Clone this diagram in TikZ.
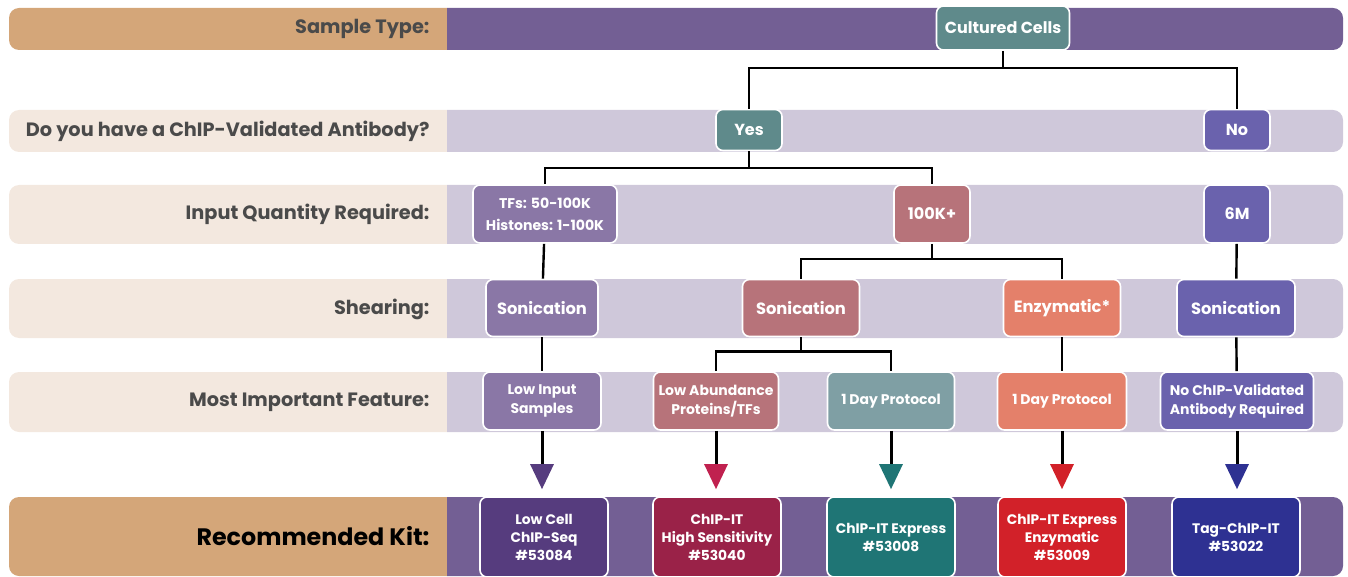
\documentclass[tikz,border=0pt]{standalone}
\usepackage{fontspec}
\setmainfont{Poppins}
\usetikzlibrary{arrows.meta,positioning,calc}

\definecolor{tanc}{HTML}{D4A679}
\definecolor{beige}{HTML}{F3E8DF}
\definecolor{lav}{HTML}{CFC8DA}
\definecolor{bandpurp}{HTML}{735F94}
\definecolor{labgray}{HTML}{4A4A4A}
\definecolor{cellteal}{HTML}{5F8A8B}
\definecolor{nopurp}{HTML}{6A62AD}
\definecolor{tfpurp}{HTML}{8A77A6}
\definecolor{mauve}{HTML}{B7737A}
\definecolor{coral}{HTML}{E4806A}
\definecolor{greyteal}{HTML}{7F9FA4}
\definecolor{kitA}{HTML}{563C7E}
\definecolor{kitB}{HTML}{9A2248}
\definecolor{kitC}{HTML}{1F7575}
\definecolor{kitD}{HTML}{D22129}
\definecolor{kitE}{HTML}{2E3192}
\definecolor{tipB}{HTML}{C0214F}

\begin{document}
\begin{tikzpicture}[
  x=1pt, y=-1pt,
  opt/.style={draw=white, line width=1.6pt, rounded corners=7pt, text=white, align=center, inner sep=2pt, font=\bfseries\fontsize{16}{19}\selectfont},
  feat/.style={opt, minimum height=58pt, font=\bfseries\fontsize{14}{19}\selectfont},
  kit/.style={opt, minimum width=128pt, minimum height=80pt, font=\bfseries\fontsize{13.8}{18}\selectfont},
  qlab/.style={anchor=east, text=labgray, font=\bfseries\fontsize{19.3}{22}\selectfont},
  conn/.style={line width=2.4pt},
  pick/.style={line width=3pt, shorten >=7pt, -{Triangle[length=25pt, width=23pt, color=#1]}}
]
\useasboundingbox (0,0) rectangle (1348,577);

% Row bands (question half + answer half)
\foreach \ya/\yb/\cl/\cr in {8/50/tanc/bandpurp, 110/152/beige/lav, 185/244/beige/lav, 279/338/beige/lav, 372/432/beige/lav, 497/576/tanc/bandpurp}{
  \begin{scope}
    \clip (0,\ya) rectangle (447,\yb);
    \fill[\cl, rounded corners=10pt] (9,\ya) rectangle (600,\yb);
  \end{scope}
  \begin{scope}
    \clip (447,\ya) rectangle (1348,\yb);
    \fill[\cr, rounded corners=10pt] (300,\ya) rectangle (1343,\yb);
  \end{scope}
}

% Questions
\node[qlab] (qsample) at (433,29) {Sample Type:};
\node[qlab] (qanti) at (433,131) {Do you have a ChIP-Validated Antibody?};
\node[qlab] (qinput) at (433,214) {Input Quantity Required:};
\node[qlab] (qshear) at (433,309) {Shearing:};
\node[qlab] (qfeat) at (433,402) {Most Important Feature:};
\node[qlab, text=black, font=\bfseries\fontsize{23.8}{26}\selectfont] (qkit) at (433,536) {Recommended Kit:};

% Answers
\node[opt, fill=cellteal, minimum width=133pt, minimum height=44pt] (cells) at (1003,28) {Cultured Cells};
\node[opt, fill=cellteal, minimum width=66pt, minimum height=41pt] (yes) at (749,130) {Yes};
\node[opt, fill=nopurp, minimum width=66pt, minimum height=41pt] (no) at (1237,130) {No};

\node[opt, fill=tfpurp, minimum width=144pt, minimum height=58pt, font=\bfseries\fontsize{14.1}{22}\selectfont] (tfs) at (545,214) {TFs: 50-100K\\Histones: 1-100K};
\node[opt, fill=mauve, minimum width=76pt, minimum height=58pt] (hk) at (932,214) {100K+};
\node[opt, fill=nopurp, minimum width=66pt, minimum height=58pt] (sixm) at (1237,214) {6M};

\node[opt, fill=tfpurp, minimum width=112pt, minimum height=57pt, font=\bfseries\fontsize{16.3}{19}\selectfont] (sonA) at (542,308) {Sonication};
\node[opt, fill=mauve, minimum width=117pt, minimum height=57pt, font=\bfseries\fontsize{16.3}{19}\selectfont] (sonB) at (801,308) {Sonication};
\node[opt, fill=coral, minimum width=117pt, minimum height=57pt, font=\bfseries\fontsize{16.3}{19}\selectfont] (enz) at (1062,308) {Enzymatic*};
\node[opt, fill=nopurp, minimum width=118pt, minimum height=57pt, font=\bfseries\fontsize{16.3}{19}\selectfont] (sonC) at (1236,308) {Sonication};

\node[feat, fill=tfpurp, minimum width=118pt] (lowin) at (542,401) {Low Input\\Samples};
\node[feat, fill=mauve, minimum width=125pt] (lowab) at (716,401) {Low Abundance\\Proteins/TFs};
\node[feat, fill=greyteal, minimum width=127pt] (dayA) at (891,401) {1 Day Protocol};
\node[feat, fill=coral, minimum width=129pt] (dayB) at (1062,401) {1 Day Protocol};
\node[feat, fill=nopurp, minimum width=153pt] (noab) at (1237,401) {No ChIP-Validated\\Antibody Required};

% Kits
\node[kit, fill=kitA] (lowcell) at (544,537) {Low Cell\\ChIP-Seq\\\#53084};
\node[kit, fill=kitB] (highsens) at (717,537) {ChIP-IT\\High Sensitivity\\\#53040};
\node[kit, fill=kitC] (express) at (891,537) {ChIP-IT Express\\\#53008};
\node[kit, fill=kitD] (expenz) at (1062,537) {ChIP-IT Express\\Enzymatic\\\#53009};
\node[kit, fill=kitE] (tagchip) at (1236,537) {Tag-ChIP-IT\\\#53022};

% Decision tree connectors
\coordinate (s1) at ($(cells.south)+(0,17)$);
\coordinate (s2) at ($(yes.south)+(0,17)$);
\coordinate (s3) at ($(hk.south)+(0,15)$);
\coordinate (s4) at ($(sonB.south)+(0,14)$);
\draw[conn] (cells.south) -- (s1);
\draw[conn] (yes.north) |- (s1) -| (no.north);
\draw[conn] (yes.south) -- (s2);
\draw[conn] (tfs.north) |- (s2) -| (hk.north);
\draw[conn] (hk.south) -- (s3);
\draw[conn] (sonB.north) |- (s3) -| (enz.north);
\draw[conn] (sonB.south) -- (s4);
\draw[conn] (lowab.north) |- (s4) -| (dayA.north);
\draw[conn] (tfs) -- (sonA);
\draw[conn] (sixm) -- (sonC);
\draw[conn] (sonA) -- (lowin);
\draw[conn] (enz) -- (dayB);
\draw[conn] (sonC) -- (noab);

% Feature -> kit
\draw[pick=kitA] (lowin) -- (lowin |- lowcell.north);
\draw[pick=tipB] (lowab) -- (lowab |- highsens.north);
\draw[pick=kitC] (dayA) -- (express);
\draw[pick=kitD] (dayB) -- (expenz);
\draw[pick=kitE] (noab) -- (noab |- tagchip.north);

\end{tikzpicture}
\end{document}
